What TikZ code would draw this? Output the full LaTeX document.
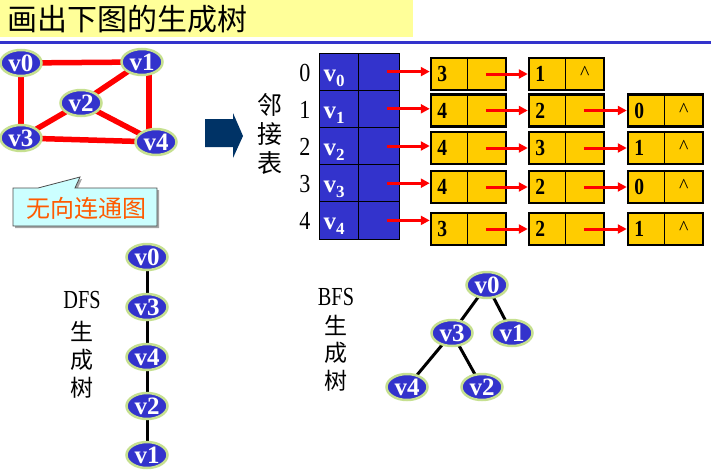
\documentclass[tikz,border=0pt]{standalone}
\usepackage{fontspec}
\setmainfont{Liberation Serif}
\newfontfamily\cjk{Noto Sans CJK SC}
\usetikzlibrary{shapes.geometric,arrows.meta,calc}
\pgfdeclarelayer{bg}
\pgfsetlayers{bg,main}
\definecolor{vblue}{HTML}{3333CC}
\definecolor{vgreen}{HTML}{C6E090}
\definecolor{titley}{HTML}{FFFF99}
\definecolor{gold}{HTML}{FFCC00}
\definecolor{navy}{HTML}{003366}
\definecolor{callfill}{HTML}{CCFFFF}
\definecolor{orng}{HTML}{FF5A00}
\newcommand\cmp[1]{\scalebox{0.85}[1]{#1}}
\tikzset{
  vert/.style={ellipse, fill=vblue, draw=vgreen, line width=2.5pt, minimum width=41pt, minimum height=26pt, inner sep=0pt, text=white, font=\bfseries\fontsize{25}{25}\selectfont},
  redge/.style={red, line width=5.5pt},
  tedge/.style={black, line width=3pt},
  rarrow/.style={red, line width=3pt, -{Triangle[length=9pt,width=9pt]}},
  lbox/.style={rectangle, draw=black, fill=gold, line width=2.5pt, minimum width=75pt, minimum height=32pt, inner sep=0pt},
  valtxt/.style={font=\bfseries\fontsize{23}{23}\selectfont, inner sep=0pt},
  carettxt/.style={font=\fontsize{20}{20}\selectfont, inner sep=0pt},
  tcellL/.style={rectangle, draw=black, fill=vblue, line width=1pt, minimum height=37.2pt, minimum width=39pt, inner sep=0pt},
  tcellR/.style={rectangle, draw=black, fill=vblue, line width=1pt, minimum height=37.2pt, minimum width=41pt, inner sep=0pt},
  ttext/.style={anchor=base west, inner sep=0pt, text=white, font=\bfseries\fontsize{25}{25}\selectfont},
  idx/.style={font=\fontsize{26}{26}\selectfont, inner sep=0pt},
  slabel/.style={inner sep=0pt, font=\fontsize{26}{26}\selectfont},
  clabel/.style={inner sep=0pt, font=\cjk\fontsize{23}{23}\selectfont},
}
\begin{document}
\begin{tikzpicture}[x=1pt,y=-1pt]
\useasboundingbox (0,0) rectangle (711,474);
% title
\fill[titley] (0,0) rectangle (413,37);
\node[anchor=west, inner sep=0pt, font=\cjk\fontsize{30}{30}\selectfont] (title) at (7,19) {画出下图的生成树};
\draw[vblue, line width=3pt] (0,42.5) -- (711,42.5);
% graph
\node[vert] (g0) at (21,63) {v0};
\node[vert] (g1) at (142,62) {v1};
\node[vert] (g2) at (81,103) {v2};
\node[vert] (g3) at (21,138) {v3};
\node[vert] (g4) at (156,142) {v4};
\begin{pgfonlayer}{bg}
\draw[redge] (g0.center) -- (g1.center);
\draw[redge] (g0.center) -- (g3.center);
\draw[redge] ($(g1.center)+(7,0)$) -- ($(g4.center)+(-7,0)$);
\draw[redge] (g1.center) -- (g2.center);
\draw[redge] (g2.center) -- (g4.center);
\draw[redge] (g3.center) -- (g2.center);
\draw[redge] (g3.center) -- (g4.center);
\end{pgfonlayer}
% callout
\fill[gray!70] (15,190) -- (40,190) -- (82,179) -- (77,190) -- (159,190) -- (159,228) -- (15,228) -- cycle;
\draw[fill=callfill, draw=black!70, line width=0.8pt] (13,188) -- (38,188) -- (80,177) -- (75,188) -- (157,188) -- (157,226) -- (13,226) -- cycle;
\node[inner sep=0pt, text=orng, font=\cjk\fontsize{24}{24}\selectfont] (callt) at (86,208) {无向连通图};
% big arrow
\fill[navy] (205,119) -- (233,119) -- (233,113) -- (243,136) -- (233,158) -- (233,147) -- (205,147) -- cycle;
% label
\node[align=center, inner sep=0pt, font=\cjk\fontsize{25}{29}\selectfont] (adj) at (270,134) {邻\\接\\表};
% list boxes
\foreach \r/\c/\v/\e in {0/0/3/0,0/1/1/1,1/0/4/0,1/1/2/0,1/2/0/1,2/0/4/0,2/1/3/0,2/2/1/1,3/0/4/0,3/1/2/0,3/2/0/1,4/0/3/0,4/1/2/0,4/2/1/1}{
  \pgfmathsetmacro\bx{{431,529,628}[\c]+37.5}
  \pgfmathsetmacro\by{{74,110.5,148,187,229}[\r]}
  \node[lbox] (b\r\c) at (\bx,\by) {};
  \draw[line width=1pt] ($(b\r\c.north west)+(38,0)$) -- ($(b\r\c.south west)+(38,0)$);
  \node[valtxt] (val\r\c) at ($(b\r\c.west)+(12.5,0)$) {\cmp{\v}};
  \ifnum\e=1 \node[carettxt] (k\r\c) at ($(b\r\c.west)+(57,-1)$) {\textasciicircum}; \fi
}
\foreach \r/\c/\d in {0/0/1,1/0/1,1/1/2,2/0/1,2/1/2,3/0/1,3/1/2,4/0/1,4/1/2}{
  \draw[rarrow] ($(b\r\c.west)+(56,0)$) -- (b\r\d.west);
}
% table
\foreach \r in {0,...,4}{
  \pgfmathsetmacro\ty{71.6+37.2*\r}
  \node[tcellL] (tl\r) at (338.5,\ty) {};
  \node[tcellR] (tr\r) at (378.5,\ty) {};
  \node[ttext] (tt\r) at ($(tl\r.west)+(5,9.5)$) {v\raisebox{-5pt}{\fontsize{17}{17}\selectfont\bfseries\r}};
  \node[idx] (i\r) at (305,\ty+1) {\cmp{\r}};
  \draw[rarrow] ($(tr\r.west)+(29,0)$) -- (tr\r.center -| b\r0.west);
}
% DFS
\node[slabel] (dfsA) at (82,300) {\scalebox{0.78}[1]{DFS}};
\node[clabel] (dfsB) at (82,331) {生};
\node[clabel] (dfsC) at (82,360) {成};
\node[clabel] (dfsD) at (82,388) {树};
\node[vert] (d0) at (147,257) {v0};
\node[vert] (d3) at (147,307) {v3};
\node[vert] (d4) at (147,357) {v4};
\node[vert] (d2) at (147,406) {v2};
\node[vert] (d1) at (147,455) {v1};
\begin{pgfonlayer}{bg}
\draw[tedge] (d0.center) -- (d3.center) -- (d4.center) -- (d2.center) -- (d1.center);
\end{pgfonlayer}
% BFS
\node[slabel] (bfsA) at (336,297) {\scalebox{0.78}[1]{BFS}};
\node[clabel] (bfsB) at (336,325) {生};
\node[clabel] (bfsC) at (336,353) {成};
\node[clabel] (bfsD) at (336,381) {树};
\node[vert] (f0) at (487,285) {v0};
\node[vert] (f3) at (452,333) {v3};
\node[vert] (f1) at (512,333) {v1};
\node[vert] (f4) at (407,387) {v4};
\node[vert] (f2) at (482,387) {v2};
\begin{pgfonlayer}{bg}
\draw[tedge] (f0.center) -- (f3.center);
\draw[tedge] (f0.center) -- (f1.center);
\draw[tedge] (f3.center) -- (f4.center);
\draw[tedge] (f3.center) -- (f2.center);
\end{pgfonlayer}
\end{tikzpicture}
\end{document}
